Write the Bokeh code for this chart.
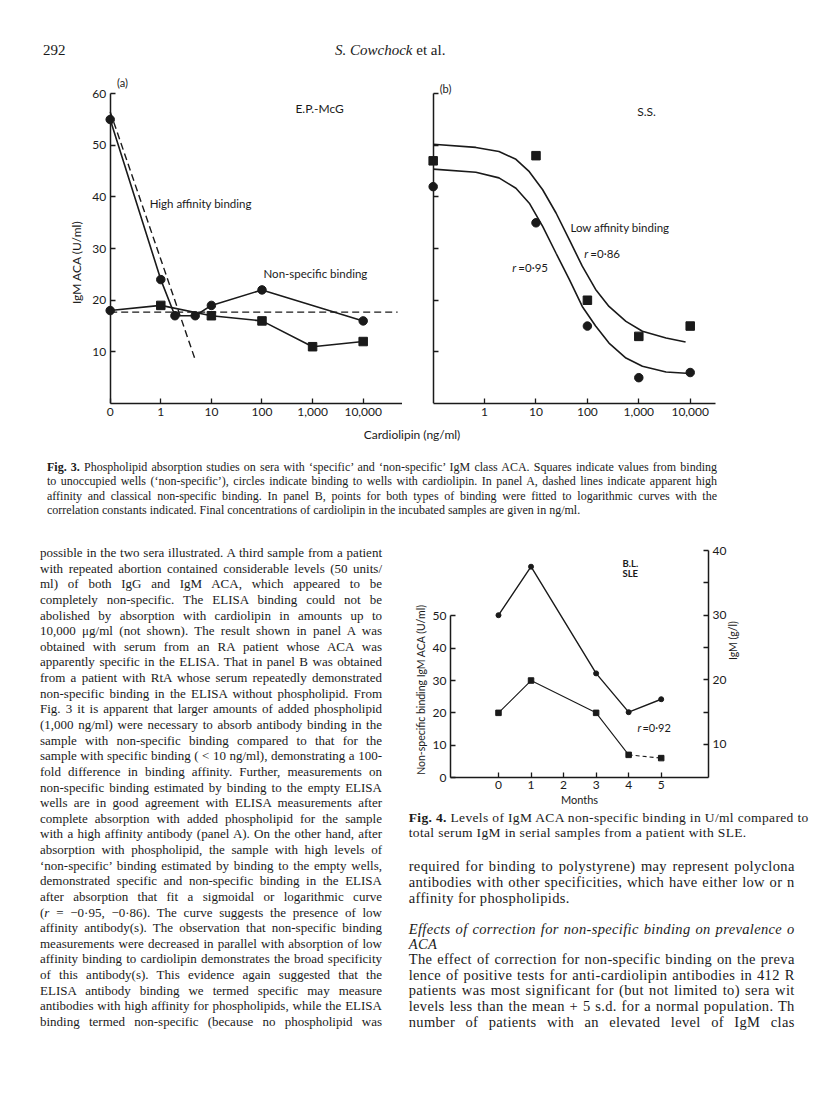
import math
from bokeh.plotting import figure
from bokeh.models import Range1d, LinearAxis, FixedTicker, Label, Div, ColumnDataSource
from bokeh.layouts import column, row
from bokeh.embed import file_html
from bokeh.resources import INLINE

SANS = "Lato"
SERIF = "Liberation Serif"
INK = "#1a1a1a"
NB = "\u00a0"

# ---------------- Fig. 3 data (x = decade position on the cardiolipin axis) ----------------
fig3_tick_pos = [0, 1, 2, 3, 4, 5]
fig3_tick_labels = ["0", "1", "10", "100", "1,000", "10,000"]
fig3_y_ticks = [10, 20, 30, 40, 50, 60]

a_circle_x = [0, 1, 1.28, 1.68, 2, 3, 5]
a_circle_y = [55, 24, 17, 17, 19, 22, 16]
a_square_x = [0, 1, 2, 3, 4, 5]
a_square_y = [18, 19, 17, 16, 11, 12]
a_square_marker = ["circle", "square", "square", "square", "square", "square"]
a_high_x = [0, 1.69]
a_high_y = [56.5, 8.2]
a_nonspec_x = [0, 5.68]
a_nonspec_y = [17.7, 17.7]

b_square_x = [0, 2, 3, 4, 5]
b_square_y = [47, 48, 20, 13, 15]
b_circle_x = [0, 2, 3, 4, 5]
b_circle_y = [42, 35, 15, 5, 6]
b_fit_sq_x = [0, 0.83, 1.28, 1.61, 1.87, 2.13, 2.39, 2.65, 2.90, 3.16, 3.42, 3.75, 4.07, 4.53, 4.91]
b_fit_sq_y = [50.2, 49.6, 48.8, 47.3, 44.9, 41.4, 36.9, 31.7, 26.6, 22.1, 18.8, 15.9, 14.0, 12.7, 11.9]
b_fit_ci_x = [0, 0.83, 1.28, 1.61, 1.87, 2.13, 2.39, 2.65, 2.90, 3.16, 3.42, 3.75, 4.07, 4.53, 5.0]
b_fit_ci_y = [45.4, 44.8, 43.7, 41.7, 38.8, 34.3, 29.1, 24.0, 18.8, 15.0, 11.7, 8.8, 7.2, 6.1, 5.8]

# ---------------- Fig. 4 data ----------------
months = [0, 1, 3, 4, 5]
igm_gl = [30, 37.5, 21, 15, 17]
nsb_uml = [20, 30, 20, 7, 6]
fig4_months_ticks = [0, 1, 2, 3, 4, 5]
fig4_left_ticks = [0, 10, 20, 30, 40, 50]
fig4_right_ticks = [10, 20, 30, 40]
fig4_right_minor = [15, 25, 35]

AXPROPS = LinearAxis.properties()


def style_axis(ax, size="12px"):
    ax.axis_line_color = INK
    ax.axis_line_width = 1.5
    ax.major_tick_line_color = INK
    ax.major_tick_line_width = 1.3
    ax.minor_tick_line_color = INK
    ax.minor_tick_line_width = 1.3
    ax.major_tick_in = 5
    ax.major_tick_out = 0
    ax.minor_tick_in = 0
    ax.minor_tick_out = 0
    ax.major_label_text_font = SANS
    ax.major_label_text_font_size = size
    ax.major_label_text_color = INK
    ax.major_label_standoff = 4
    ax.axis_label_text_font = SANS
    ax.axis_label_text_font_style = "normal"
    ax.axis_label_text_color = INK


def lab(p, x, y, text, size="11.5px", style="normal", align="left", yrng=None, xoff=0):
    kw = dict(x=x, y=y, text=text, text_font=SANS, text_font_size=size,
              text_font_style=style, text_align=align, text_baseline="middle",
              text_color=INK, x_offset=xoff)
    if yrng:
        kw["y_range_name"] = yrng
    p.add_layout(Label(**kw))


def base_fig(**kw):
    return figure(x_axis_type=None, y_axis_type=None, output_backend="svg",
                  toolbar_location=None, outline_line_color=None, margin=0,
                  background_fill_color="white", border_fill_color="white", **kw)


# ================= Fig. 3 panel (a) =================
pa = base_fig(frame_width=334, frame_height=331,
              x_range=Range1d(-0.824, 5.777), y_range=Range1d(0, 64.11),
              min_border_left=68, min_border_right=0, min_border_top=0, min_border_bottom=26)

ya = LinearAxis(fixed_location=0, bounds=(0, 60), ticker=FixedTicker(ticks=fig3_y_ticks),
                axis_label="IgM ACA (U/ml)" + NB * 9)
style_axis(ya)
ya.axis_label_text_font_size = "12px"
ya.axis_label_standoff = 6
pa.add_layout(ya, "left")

xa = LinearAxis(bounds=(0, 5.8), ticker=FixedTicker(ticks=fig3_tick_pos),
                major_label_overrides={k: v for k, v in zip(fig3_tick_pos, fig3_tick_labels)})
style_axis(xa)
pa.add_layout(xa, "below")

pa.line(a_high_x, a_high_y, line_color=INK, line_width=1.4, line_dash="7 4")
pa.line(a_nonspec_x, a_nonspec_y, line_color=INK, line_width=1.4, line_dash="7 4")
pa.line(a_circle_x, a_circle_y, line_color=INK, line_width=1.6)
pa.line(a_square_x, a_square_y, line_color=INK, line_width=1.6)
pa.scatter(a_circle_x, a_circle_y, marker="circle", size=8.5, fill_color=INK, line_color=INK)
src_sq = ColumnDataSource(dict(x=a_square_x, y=a_square_y, m=a_square_marker))
pa.scatter("x", "y", source=src_sq, marker="m", size=8.5, fill_color=INK, line_color=INK)

lab(pa, 0.243, 62.1, "(a)", size="11px", align="center")
lab(pa, 3.66, 57.2, "E.P.-McG", size="12px")
lab(pa, 0.78, 38.8, "High affinity binding")
lab(pa, 3.03, 25.1, "Non-specific binding")

# ================= Fig. 3 panel (b) =================
pb = base_fig(frame_width=305, frame_height=331,
              x_range=Range1d(-0.305, 5.628), y_range=Range1d(0, 64.11),
              min_border_left=15, min_border_right=78, min_border_top=0, min_border_bottom=26)

yb = LinearAxis(fixed_location=0, bounds=(0, 60),
                ticker=FixedTicker(ticks=[], minor_ticks=fig3_y_ticks))
style_axis(yb)
yb.minor_tick_in = 5
pb.add_layout(yb, "left")

xb = LinearAxis(bounds=(0, 5.5), ticker=FixedTicker(ticks=fig3_tick_pos[1:]),
                major_label_overrides={k: v for k, v in zip(fig3_tick_pos[1:], fig3_tick_labels[1:])})
style_axis(xb)
pb.add_layout(xb, "below")

pb.line(b_fit_sq_x, b_fit_sq_y, line_color=INK, line_width=1.6)
pb.line(b_fit_ci_x, b_fit_ci_y, line_color=INK, line_width=1.6)
pb.scatter(b_square_x, b_square_y, marker="square", size=8.5, fill_color=INK, line_color=INK)
pb.scatter(b_circle_x, b_circle_y, marker="circle", size=8.5, fill_color=INK, line_color=INK)

lab(pb, 0.24, 61.1, "(b)", size="11px", align="center")
lab(pb, 3.97, 56.5, "S.S.", size="12px")
lab(pb, 2.67, 34.0, "Low affinity binding")
lab(pb, 2.94, 29.1, "r", style="italic")
lab(pb, 2.94, 29.1, "=0·86", xoff=6)
lab(pb, 1.54, 26.4, "r", style="italic")
lab(pb, 1.54, 26.4, "=0·95", xoff=6)

# ================= Fig. 4 =================
p4 = base_fig(frame_width=258, frame_height=235,
              x_range=Range1d(-1.475, 6.454), y_range=Range1d(0, 72.7),
              min_border_left=46, min_border_right=92, min_border_top=10, min_border_bottom=33)
p4.extra_y_ranges = {"r": Range1d(4.895, 41.245)}

lax = LinearAxis(bounds=(0, 50), ticker=FixedTicker(ticks=fig4_left_ticks),
                 axis_label="Non-specific binding IgM ACA (U/ml)" + NB * 22)
style_axis(lax)
lax.axis_label_text_font_size = "10.5px"
lax.axis_label_standoff = 3
p4.add_layout(lax, "left")

rax = LinearAxis(y_range_name="r", bounds=(4.895, 40),
                 ticker=FixedTicker(ticks=fig4_right_ticks, minor_ticks=fig4_right_minor),
                 axis_label="IgM (g/l)")
style_axis(rax)
rax.minor_tick_in = 5
rax.axis_label_text_font_size = "10.5px"
rax.axis_label_standoff = 4
if "axis_label_orientation" in AXPROPS:
    rax.axis_label_orientation = math.pi / 2
p4.add_layout(rax, "right")

bax = LinearAxis(ticker=FixedTicker(ticks=fig4_months_ticks), axis_label="Months")
style_axis(bax)
bax.axis_label_text_font_size = "11px"
bax.axis_label_standoff = 1
bax.major_label_standoff = 3
p4.add_layout(bax, "below")

p4.line(months, igm_gl, y_range_name="r", line_color=INK, line_width=1.4)
p4.scatter(months, igm_gl, y_range_name="r", marker="circle", size=5, fill_color=INK, line_color=INK)
p4.line(months[:4], nsb_uml[:4], line_color=INK, line_width=1.1)
p4.line(months[3:], nsb_uml[3:], line_color=INK, line_width=1.1, line_dash="4 3")
p4.scatter(months, nsb_uml, marker="square", size=5.5, fill_color=INK, line_color=INK)

lab(p4, 3.81, 66.1, "B.L.", size="9.5px", style="bold")
lab(p4, 3.81, 63.0, "SLE", size="9.5px", style="bold")
lab(p4, 4.27, 15.6, "r", size="11px", style="italic")
lab(p4, 4.27, 15.6, "=0·92", size="11px", xoff=5)


# ================= text blocks =================
def tline(text, left, cy, width, size, lh=16, justify=True, style="", family=None):
    top = cy - lh / 2
    ta = "text-align:justify;text-align-last:justify;" if justify else "text-align:left;"
    fam = f"font-family:'{family}',sans-serif;" if family else ""
    return (f'<div style="position:absolute;left:{left}px;top:{top:.1f}px;width:{width}px;'
            f'height:{lh}px;line-height:{lh}px;font-size:{size}px;white-space:nowrap;{ta}{fam}{style}">{text}</div>')


def block(inner, w, h):
    html = (f'<div style="position:relative;width:{w}px;height:{h}px;'
            f'font-family:\'{SERIF}\',serif;color:{INK};">{inner}</div>')
    return Div(text=html, width=w, height=h, margin=0)


header = block(
    tline("292", 43, 50, 40, 15, justify=False)
    + tline("<i>S. Cowchock</i> et al.", 335, 50, 200, 15, justify=False),
    800, 72)

cap3_lines = [
    "<b>Fig. 3.</b> Phospholipid absorption studies on sera with ‘specific’ and ‘non-specific’ IgM class ACA. Squares indicate values from binding",
    "to unoccupied wells (‘non-specific’), circles indicate binding to wells with cardiolipin. In panel A, dashed lines indicate apparent high",
    "affinity and classical non-specific binding. In panel B, points for both types of binding were fitted to logarithmic curves with the",
    "correlation constants indicated. Final concentrations of cardiolipin in the incubated samples are given in ng/ml.",
]
cap3_html = tline("Cardiolipin (ng/ml)", 312, 6, 200, 12, justify=False, family=SANS,
                  style="text-align:center;")
cap3_html += "".join(
    tline(t, 47, 38 + 14.5 * i, 670, 12, lh=15, justify=(i < 3)) for i, t in enumerate(cap3_lines))
cap3 = block(cap3_html, 800, 103)

left_lines = [
    "possible in the two sera illustrated. A third sample from a patient",
    "with repeated abortion contained considerable levels (50 units/",
    "ml) of both IgG and IgM ACA, which appeared to be",
    "completely non-specific. The ELISA binding could not be",
    "abolished by absorption with cardiolipin in amounts up to",
    "10,000 μg/ml (not shown). The result shown in panel A was",
    "obtained with serum from an RA patient whose ACA was",
    "apparently specific in the ELISA. That in panel B was obtained",
    "from a patient with RtA whose serum repeatedly demonstrated",
    "non-specific binding in the ELISA without phospholipid. From",
    "Fig. 3 it is apparent that larger amounts of added phospholipid",
    "(1,000 ng/ml) were necessary to absorb antibody binding in the",
    "sample with non-specific binding compared to that for the",
    "sample with specific binding ( &lt; 10 ng/ml), demonstrating a 100-",
    "fold difference in binding affinity. Further, measurements on",
    "non-specific binding estimated by binding to the empty ELISA",
    "wells are in good agreement with ELISA measurements after",
    "complete absorption with added phospholipid for the sample",
    "with a high affinity antibody (panel A). On the other hand, after",
    "absorption with phospholipid, the sample with high levels of",
    "‘non-specific’ binding estimated by binding to the empty wells,",
    "demonstrated specific and non-specific binding in the ELISA",
    "after absorption that fit a sigmoidal or logarithmic curve",
    "(<i>r</i> = −0·95, −0·86). The curve suggests the presence of low",
    "affinity antibody(s). The observation that non-specific binding",
    "measurements were decreased in parallel with absorption of low",
    "affinity binding to cardiolipin demonstrates the broad specificity",
    "of this antibody(s). This evidence again suggested that the",
    "ELISA antibody binding we termed specific may measure",
    "antibodies with high affinity for phospholipids, while the ELISA",
    "binding termed non-specific (because no phospholipid was",
]
left_html = "".join(tline(t, 40, 21 + 15.63 * i, 342, 13, lh=16) for i, t in enumerate(left_lines))
left_div = block(left_html, 404, 568)

RS = "letter-spacing:0.35px;"
right_items = [
    ("<b>Fig. 4.</b> Levels of IgM ACA non-specific binding in U/ml compared to", 8, True, 13.5),
    ("total serum IgM in serial samples from a patient with SLE.", 22.7, False, 13.5),
    ("required for binding to polystyrene) may represent polyclona", 56, True, 14.5),
    ("antibodies with other specificities, which have either low or n", 72, True, 14.5),
    ("affinity for phospholipids.", 88, False, 14.5),
    ("<i>Effects of correction for non-specific binding on prevalence o</i>", 118.7, True, 14.5),
    ("<i>ACA</i>", 133.7, False, 14.5),
    ("The effect of correction for non-specific binding on the preva", 148.7, True, 14.5),
    ("lence of positive tests for anti-cardiolipin antibodies in 412 R", 164.7, True, 14.5),
    ("patients was most significant for (but not limited to) sera wit", 180.3, True, 14.5),
    ("levels less than the mean + 5 s.d. for a normal population. Th", 196.3, True, 14.5),
    ("number of patients with an elevated level of IgM clas", 212, True, 14.5),
]
right_html = "".join(tline(t, 4.7, cy, 386, sz, lh=16, justify=j, style=RS) for t, cy, j, sz in right_items)
right_div = block(right_html, 396, 290)

page = column(header, row(pa, pb, spacing=0), cap3,
              row(left_div, column(p4, right_div, spacing=0), spacing=0), spacing=0)

open("out.html", "w").write(file_html(page, INLINE))
